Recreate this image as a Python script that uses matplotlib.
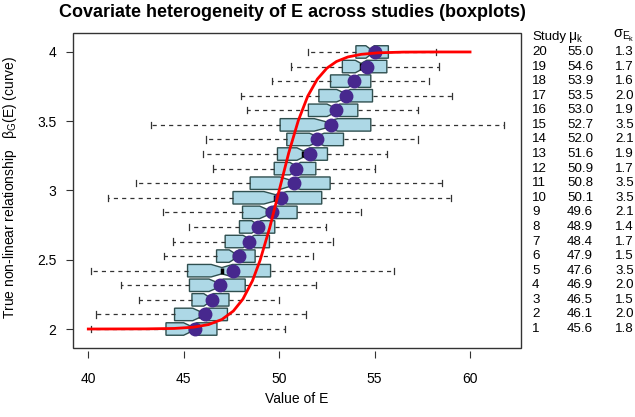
import matplotlib.pyplot as plt
import matplotlib.transforms as mtransforms
from matplotlib.patches import Rectangle
import numpy as np

plt.rcParams['font.family'] = ['Liberation Sans', 'DejaVu Sans']
plt.rcParams['mathtext.fontset'] = 'custom'
plt.rcParams['mathtext.rm'] = 'Liberation Sans'
plt.rcParams['mathtext.it'] = 'Liberation Sans:italic'

# study table (right side)
studies = list(range(1, 21))
mu = [45.6, 46.1, 46.5, 46.9, 47.6, 47.9, 48.4, 48.9, 49.6, 50.1,
      50.8, 50.9, 51.6, 52.0, 52.7, 53.0, 53.5, 53.9, 54.6, 55.0]
sigma = [1.8, 2.0, 1.5, 2.0, 3.5, 1.5, 1.7, 1.4, 2.1, 3.5,
         3.5, 1.7, 1.9, 2.1, 3.5, 1.9, 2.0, 1.6, 1.7, 1.3]

# boxplot summaries (study 1 .. 20)
whisk_lo = [40.16, 40.40, 42.67, 41.73, 40.16, 43.94, 44.43, 45.25, 43.91, 41.01,
            42.51, 46.51, 46.02, 46.16, 43.28, 48.31, 48.01, 49.62, 50.61, 51.53]
q1 = [44.07, 44.52, 45.43, 45.30, 45.20, 46.72, 47.17, 47.92, 48.08, 47.58,
      48.48, 49.74, 49.91, 50.40, 50.05, 51.53, 52.08, 52.69, 53.31, 54.02]
med = [45.34, 45.83, 46.30, 46.70, 47.00, 47.64, 48.40, 48.80, 49.35, 49.80,
       50.58, 50.84, 51.27, 51.97, 52.45, 52.84, 53.37, 53.89, 54.29, 54.76]
q3 = [46.74, 47.29, 47.37, 48.22, 49.55, 48.74, 49.49, 49.77, 50.94, 52.23,
      52.67, 51.92, 52.53, 53.37, 54.80, 54.12, 54.89, 54.80, 55.64, 55.72]
whisk_hi = [50.31, 51.40, 50.00, 51.92, 56.04, 51.78, 52.81, 52.43, 54.28, 59.02,
            58.52, 55.04, 55.67, 57.26, 61.80, 57.26, 59.07, 57.85, 58.38, 58.22]
n_per_study = 150

# true curve, points
curve_x = [40.0, 43.0, 44.5, 45.5, 46.3, 47.0, 47.6, 48.1, 48.6, 49.0, 49.5, 50.0,
           50.5, 51.0, 51.5, 52.0, 52.5, 53.0, 53.6, 54.3, 55.2, 56.5, 58.0, 60.0]
curve_y = [2.000, 2.001, 2.004, 2.013, 2.032, 2.069, 2.130, 2.216, 2.348, 2.496, 2.729, 3.000,
           3.271, 3.504, 3.682, 3.804, 3.883, 3.931, 3.964, 3.983, 3.994, 3.999, 4.000, 4.000]

positions = np.linspace(2, 4, len(studies))

stats = []
for lo, a, m, b, hi in zip(whisk_lo, q1, med, q3, whisk_hi):
    half = 1.58 * (b - a) / np.sqrt(n_per_study)
    stats.append(dict(med=m, q1=a, q3=b, whislo=lo, whishi=hi,
                      cilo=m - half, cihi=m + half, fliers=[]))

fig = plt.figure(figsize=(6.35, 4.17), dpi=100)
ax = fig.add_axes([0.115, 0.1655, 0.7055, 0.7554])

ax.bxp(stats, positions=positions, widths=0.09, orientation='horizontal',
       shownotches=True, patch_artist=True, showfliers=False, manage_ticks=False,
       boxprops=dict(facecolor='#ADD8E6', edgecolor='#2F4F4F', linewidth=1),
       whiskerprops=dict(color='#333333', linewidth=0.9, linestyle=(0, (3.3, 3.3))),
       capprops=dict(color='#333333', linewidth=0.9),
       medianprops=dict(color='black', linewidth=2.5))

ax.plot(mu, positions, 'o', color='#47288E', ms=9, zorder=4)
ax.plot(curve_x, curve_y, color='red', lw=2, zorder=5)

ax.set_xlim(39.2, 62.67)
ax.set_ylim(1.863, 4.137)
ax.set_xticks([40, 45, 50, 55, 60])
ax.set_yticks([2, 2.5, 3, 3.5, 4])
ax.set_yticklabels(['2', '2.5', '3', '3.5', '4'])
ax.tick_params(direction='out', length=5, width=0.8, color='#333333', labelsize=10)
ax.tick_params(axis='y', pad=7)
ax.tick_params(axis='x', pad=10)

for s in ax.spines.values():
    s.set_visible(False)
ax.spines['bottom'].set_position(('outward', 2.5))
ax.add_patch(Rectangle((0, 0), 1, 1, transform=ax.transAxes, fill=False,
                       edgecolor='#333333', lw=1, clip_on=False, zorder=6))

# table on the right
trans = mtransforms.blended_transform_factory(ax.transAxes, ax.transData)
col_x = [1.0246, 1.1027, 1.2098]
head_y = 4 + 2 / 19
fs = 9.6
ax.text(col_x[0], head_y, 'Study', transform=trans, fontsize=fs, va='center')
ax.text(col_x[1] + 0.003, head_y, r'$\mathregular{μ_k}$', transform=trans, fontsize=fs + 0.5,
        va='center')
ax.text(col_x[2] - 0.004, head_y + 0.01, r'$\mathregular{σ_{E_k}}$', transform=trans,
        fontsize=fs + 0.8, va='center')
for s, m, sd, y in zip(studies, mu, sigma, positions):
    ax.text(col_x[0], y, str(s), transform=trans, fontsize=fs, va='center')
    ax.text(col_x[1], y, f'{m:.1f}', transform=trans, fontsize=fs, va='center')
    ax.text(col_x[2], y, f'{sd:.1f}', transform=trans, fontsize=fs, va='center')

fig.text(0.461, 0.97, 'Covariate heterogeneity of E across studies (boxplots)',
         ha='center', va='center', fontsize=13, fontweight='bold')
fig.text(0.4677, 0.043, 'Value of E', ha='center', va='center', fontsize=10)
fig.text(0.016, 0.55, r'True non-linear relationship   $\mathregular{β_G}$(E) (curve)',
         ha='center', va='center', rotation=90, fontsize=10)

fig.savefig('out.png', dpi=100)
